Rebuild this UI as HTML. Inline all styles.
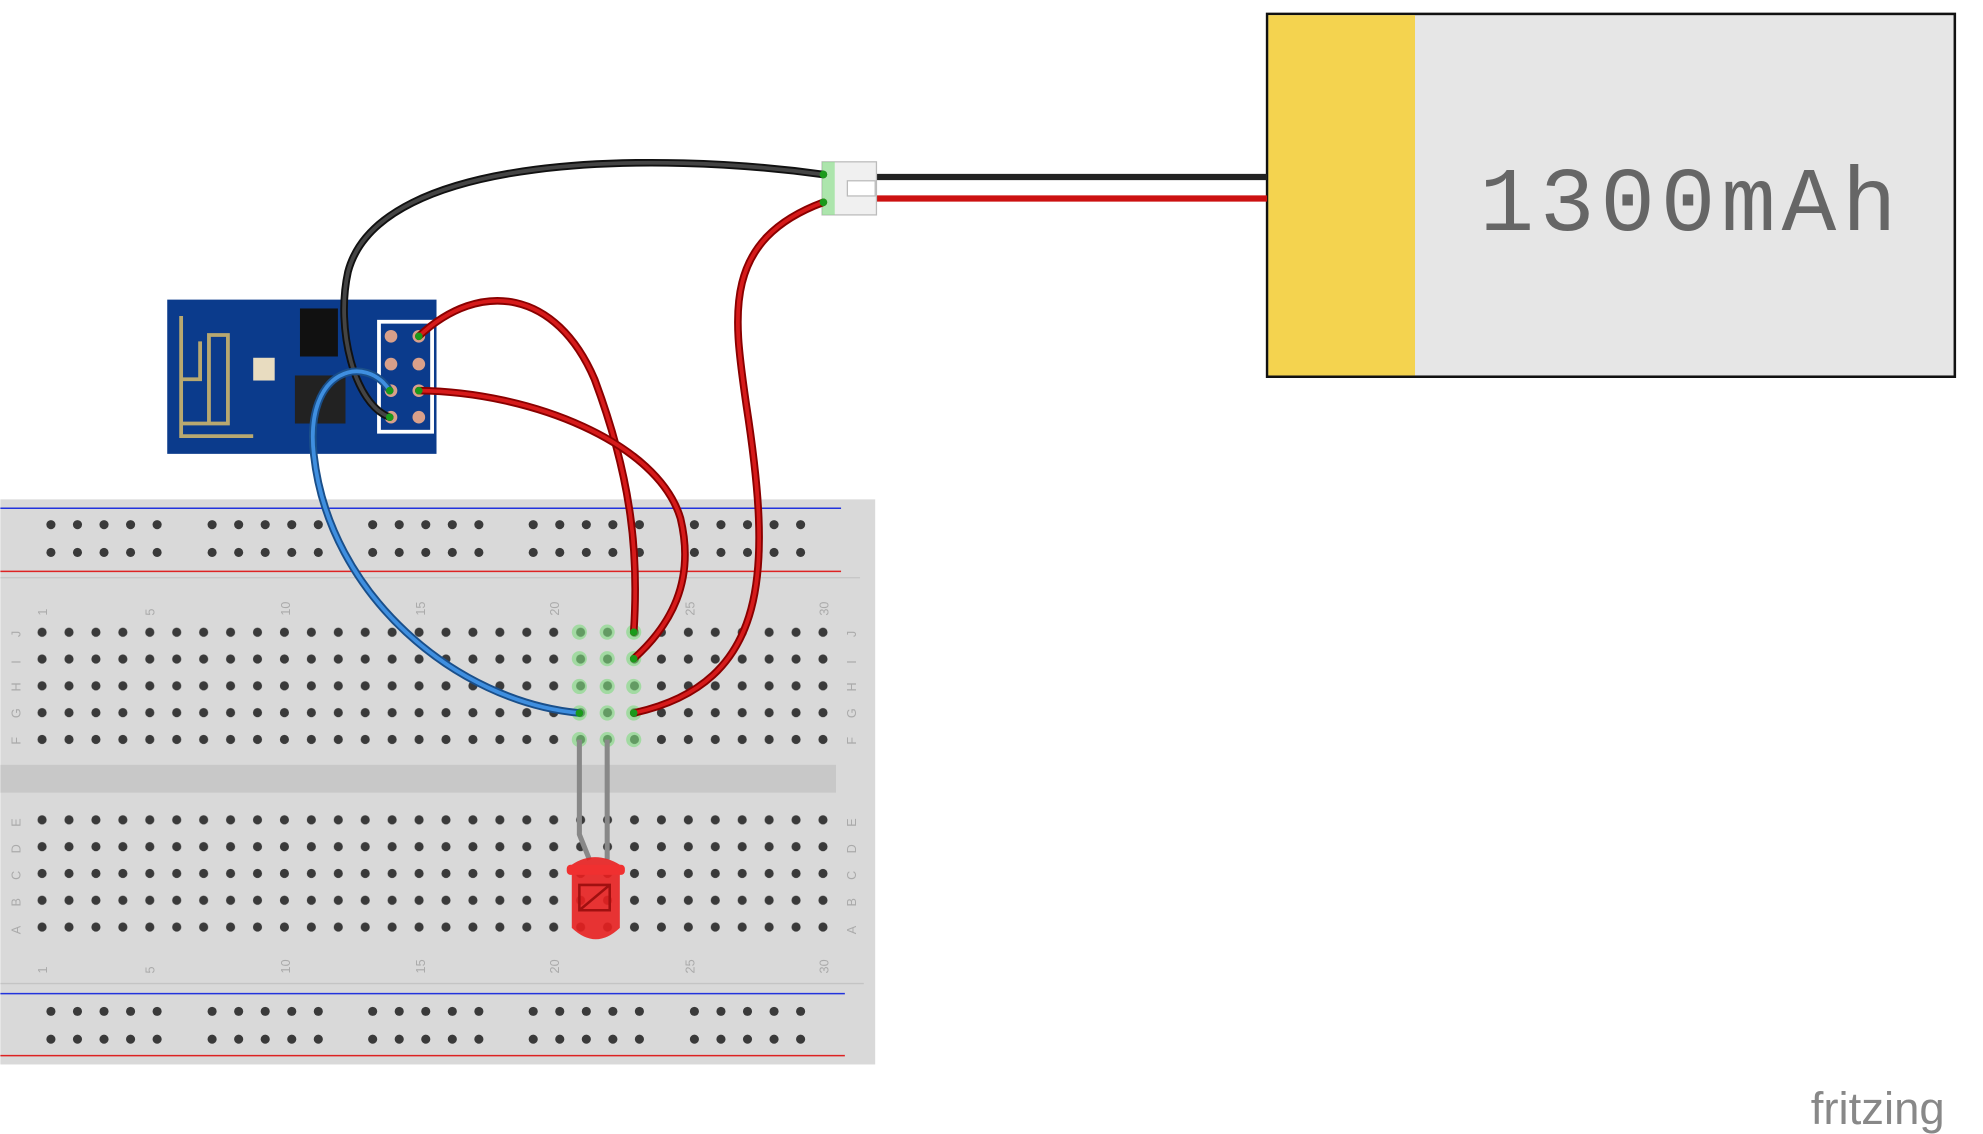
<!DOCTYPE html>
<html><head><meta charset="utf-8"><style>html,body{margin:0;padding:0;background:#fff}svg{display:block}</style></head>
<body>
<svg width="1983" height="1134" viewBox="0 0 1568 897" xmlns="http://www.w3.org/2000/svg" font-family="Liberation Sans, sans-serif">
<defs>
<pattern id="hole" width="21.3" height="21.2" patternUnits="userSpaceOnUse" x="22.4" y="489.5">
<circle cx="10.6" cy="10.6" r="3.6" fill="#3a3a3a"/>
</pattern>
</defs>
<rect x="0" y="395" width="692" height="447" fill="#d9d9d9"/>
<rect x="0" y="605" width="661" height="22" fill="#c8c8c8"/>
<line x1="0" y1="402" x2="665" y2="402" stroke="#2233dd" stroke-width="1.2"/>
<line x1="0" y1="452" x2="665" y2="452" stroke="#dd2222" stroke-width="1.2"/>
<line x1="0" y1="786" x2="668" y2="786" stroke="#2233dd" stroke-width="1.2"/>
<line x1="0" y1="835" x2="668" y2="835" stroke="#dd2222" stroke-width="1.2"/>
<line x1="0" y1="457" x2="680" y2="457" stroke="#c4c4c4"/>
<line x1="0" y1="778" x2="683" y2="778" stroke="#c4c4c4"/>
<g id="rails" fill="#3a3a3a">
<g id="r1">
<circle cx="40" cy="415" r="3.6"/><circle cx="61" cy="415" r="3.6"/><circle cx="82" cy="415" r="3.6"/><circle cx="103" cy="415" r="3.6"/><circle cx="124" cy="415" r="3.6"/>
<circle cx="40" cy="437" r="3.6"/><circle cx="61" cy="437" r="3.6"/><circle cx="82" cy="437" r="3.6"/><circle cx="103" cy="437" r="3.6"/><circle cx="124" cy="437" r="3.6"/>
</g>
<use href="#r1" x="127.5"/><use href="#r1" x="254.5"/><use href="#r1" x="381.5"/><use href="#r1" x="509"/>
<use href="#r1" y="385"/><use href="#r1" x="127.5" y="385"/><use href="#r1" x="254.5" y="385"/><use href="#r1" x="381.5" y="385"/><use href="#r1" x="509" y="385"/>
</g>
<rect x="22.4" y="489.5" width="639" height="106" fill="url(#hole)"/>
<rect x="22.4" y="639.5" width="639" height="106" fill="url(#hole)"/>
<g fill="#7fdc7f" opacity="0.6">
<circle cx="458" cy="500" r="6"/><circle cx="480" cy="500" r="6"/><circle cx="501" cy="500" r="6"/>
<circle cx="458" cy="521" r="6"/><circle cx="480" cy="521" r="6"/><circle cx="501" cy="521" r="6"/>
<circle cx="458" cy="543" r="6"/><circle cx="480" cy="543" r="6"/><circle cx="501" cy="543" r="6"/>
<circle cx="458" cy="564" r="6"/><circle cx="480" cy="564" r="6"/><circle cx="501" cy="564" r="6"/>
<circle cx="458" cy="585" r="6"/><circle cx="480" cy="585" r="6"/><circle cx="501" cy="585" r="6"/>
</g>
<g fill="#aaa" font-size="10">
<text transform="translate(37,487) rotate(-90)">1</text><text transform="translate(122,487) rotate(-90)">5</text><text transform="translate(229,487) rotate(-90)">10</text><text transform="translate(336,487) rotate(-90)">15</text><text transform="translate(442,487) rotate(-90)">20</text><text transform="translate(549,487) rotate(-90)">25</text><text transform="translate(655,487) rotate(-90)">30</text>
<text transform="translate(37,770) rotate(-90)">1</text><text transform="translate(122,770) rotate(-90)">5</text><text transform="translate(229,770) rotate(-90)">10</text><text transform="translate(336,770) rotate(-90)">15</text><text transform="translate(442,770) rotate(-90)">20</text><text transform="translate(549,770) rotate(-90)">25</text><text transform="translate(655,770) rotate(-90)">30</text>
<g id="lt"><text transform="translate(16,504) rotate(-90)">J</text><text transform="translate(16,525) rotate(-90)">I</text><text transform="translate(16,547) rotate(-90)">H</text><text transform="translate(16,568) rotate(-90)">G</text><text transform="translate(16,589) rotate(-90)">F</text>
<text transform="translate(16,654) rotate(-90)">E</text><text transform="translate(16,675) rotate(-90)">D</text><text transform="translate(16,696) rotate(-90)">C</text><text transform="translate(16,717) rotate(-90)">B</text><text transform="translate(16,739) rotate(-90)">A</text></g>
<use href="#lt" x="661"/>
</g>
<rect x="132" y="237" width="213" height="122" fill="#0b3b8c"/>
<path d="M200 345 H143 V250 M143 335 H180 V265 H165 V335 M143 300 H158 V270" fill="none" stroke="#b8a870" stroke-width="3"/>
<rect x="237" y="244" width="30" height="38" fill="#111"/>
<rect x="233" y="297" width="40" height="38" fill="#222"/>
<rect x="200" y="283" width="17" height="18" fill="#e8dcc0"/>
<rect x="298" y="253" width="45" height="90" fill="#fff"/>
<rect x="301" y="256" width="39" height="84" fill="#0b3b8c"/>
<g fill="#d9a08a"><circle cx="309" cy="266" r="5"/><circle cx="331" cy="266" r="5"/><circle cx="309" cy="288" r="5"/><circle cx="331" cy="288" r="5"/><circle cx="309" cy="309" r="5"/><circle cx="331" cy="309" r="5"/><circle cx="309" cy="330" r="5"/><circle cx="331" cy="330" r="5"/></g>
<rect x="1002" y="11" width="544" height="287" fill="#e6e6e6" stroke="#111" stroke-width="2"/>
<rect x="1003" y="12" width="116" height="285" fill="#f4d34f"/>
<text x="1170" y="182" font-family="Liberation Mono, monospace" font-size="72" fill="#666" textLength="330">1300mAh</text>
<line x1="693" y1="140" x2="1002" y2="140" stroke="#222" stroke-width="5"/>
<line x1="693" y1="157" x2="1002" y2="157" stroke="#cc1111" stroke-width="5"/>
<rect x="650" y="128" width="43" height="42" fill="#f0f0f0" stroke="#bbb"/>
<rect x="650" y="128" width="10" height="42" fill="#8fe08f" opacity="0.7"/>
<rect x="670" y="143" width="22" height="12" fill="#fff" stroke="#bbb"/>
<path d="M458 585 V660 L466 680" fill="none" stroke="#888" stroke-width="4"/>
<path d="M480 585 V680" fill="none" stroke="#888" stroke-width="4"/>
<g fill="none" stroke-linecap="round">
<path d="M651 138 C520 120 300 120 275 215 C265 260 280 320 308 330" stroke="#111" stroke-width="6"/>
<path d="M651 138 C520 120 300 120 275 215 C265 260 280 320 308 330" stroke="#444" stroke-width="3"/>
<path d="M651 160 C570 190 580 250 590 320 C610 450 610 540 501 564" stroke="#8a0000" stroke-width="6"/>
<path d="M651 160 C570 190 580 250 590 320 C610 450 610 540 501 564" stroke="#d61a1a" stroke-width="3"/>
<path d="M331 266 C380 220 440 230 470 300 C500 380 505 440 501 500" stroke="#8a0000" stroke-width="6"/>
<path d="M331 266 C380 220 440 230 470 300 C500 380 505 440 501 500" stroke="#d61a1a" stroke-width="3"/>
<path d="M331 309 C420 310 520 350 538 410 C550 460 530 495 501 521" stroke="#8a0000" stroke-width="6"/>
<path d="M331 309 C420 310 520 350 538 410 C550 460 530 495 501 521" stroke="#d61a1a" stroke-width="3"/>
<path d="M308 309 C290 280 240 290 248 360 C260 470 360 555 458 564" stroke="#1a4f8a" stroke-width="6"/>
<path d="M308 309 C290 280 240 290 248 360 C260 470 360 555 458 564" stroke="#3f8fe0" stroke-width="3"/>
</g>
<g fill="#1a9a1a"><circle cx="651" cy="138" r="3"/><circle cx="651" cy="160" r="3"/><circle cx="308" cy="330" r="3"/><circle cx="331" cy="266" r="3"/><circle cx="331" cy="309" r="3"/><circle cx="308" cy="309" r="3"/><circle cx="458" cy="564" r="3"/><circle cx="501" cy="564" r="3"/><circle cx="501" cy="500" r="3"/><circle cx="501" cy="521" r="3"/></g>
<path d="M452 684 Q470 672 490 684 V734 Q471 752 452 734 Z" fill="#e82020" opacity="0.9"/>
<rect x="448" y="684" width="46" height="8" rx="3" fill="#f03030"/>
<path d="M458 700 H482 V720 H458 Z M458 720 L482 700" fill="none" stroke="#a01010" stroke-width="2"/>
<text x="1432" y="889" font-size="36" fill="#888">fritzing</text>
</svg>
</body></html>
